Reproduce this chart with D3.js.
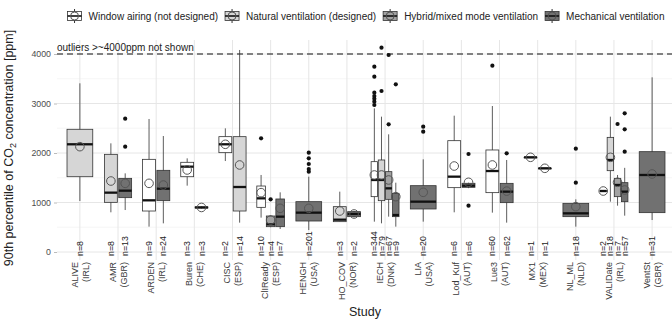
<!DOCTYPE html>
<html>
<head>
<meta charset="utf-8">
<script src="https://cdn.jsdelivr.net/npm/d3@7"></script>
<style>
  body { margin: 0; background: #fff; }
  text { font-family: "Liberation Sans", Arial, sans-serif; }
</style>
</head>
<body>
<svg width="672" height="326"></svg>
<script>
// studies on the x axis
const studyNames = ["ALIVE", "AMR", "ARDEN", "Buren", "CISC", "ClIReady", "HENGH", "HO_COV", "IECH", "LIA", "Lod_Kuf", "Lue3", "MX1", "NL_ML", "VALIDate", "VentSt"];
const studyCountries = ["(IRL)", "(GBR)", "(IRL)", "(CHE)", "(ESP)", "(ESP)", "(USA)", "(NOR)", "(DNK)", "(USA)", "(AUT)", "(AUT)", "(MEX)", "(NLD)", "(IRL)", "(GBR)"];
const ventTypes = ["Window airing (not designed)", "Natural ventilation (designed)", "Hybrid/mixed mode ventilation", "Mechanical ventilation"];
const yTicks = [0, 1000, 2000, 3000, 4000];

// one entry per box
const boxStudy = [0, 1, 1, 2, 2, 3, 3, 4, 4, 5, 5, 5, 6, 7, 7, 8, 8, 8, 8, 9, 10, 10, 11, 11, 12, 12, 13, 14, 14, 14, 14, 15];
const boxType  = [1, 1, 3, 0, 3, 0, 1, 0, 1, 0, 2, 3, 3, 1, 3, 0, 1, 2, 3, 3, 0, 3, 0, 3, 1, 2, 3, 0, 1, 2, 3, 3];
const boxN     = [8, 8, 13, 9, 24, 3, 3, 2, 14, 10, 4, 7, 201, 3, 2, 344, 79, 67, 9, 20, 6, 6, 60, 62, 1, 1, 18, 2, 18, 7, 57, 31];
const whiskLo  = [1030, 802, 848, 512, 579, 1340, 880, 1838, 593, 694, 500, 465, 444, 613, 700, 613, 579, 714, 512, 613, 802, 1290, 795, 593, 1913, 1691, 512, 1215, 1017, 936, 734, 646];
const q1       = [1521, 1003, 1098, 828, 1037, 1521, 890, 2007, 828, 902, 512, 512, 626, 613, 714, 1118, 1037, 1064, 714, 869, 1300, 1307, 1199, 997, 1913, 1691, 714, 1220, 1643, 1118, 1017, 795];
const median   = [2176, 1199, 1239, 1044, 1279, 1724, 900, 2176, 1313, 1084, 559, 714, 795, 653, 768, 1455, 1455, 1286, 747, 1017, 1522, 1340, 1636, 1219, 1913, 1691, 781, 1232, 1859, 1354, 1219, 1556];
const q3       = [2479, 1973, 1488, 1872, 1650, 1812, 910, 2330, 2330, 1333, 727, 1071, 1017, 916, 815, 1825, 1859, 1623, 1185, 1340, 2249, 1388, 2061, 1387, 1913, 1691, 983, 1245, 2316, 1488, 1401, 2027];
const whiskHi  = [3408, 2195, 1589, 2687, 2343, 1892, 920, 2498, 4081, 1556, 740, 1205, 1521, 1219, 830, 2902, 2734, 2377, 1400, 1872, 2754, 1400, 2949, 1859, 1913, 1691, 1064, 1250, 2734, 1556, 1700, 3529];
const means    = [2128, 1434, 1387, 1387, 1353, 1657, 900, 2176, 1758, 1199, 646, 882, 882, 828, 768, 1556, 1556, 1455, 1118, 1206, 1737, 1408, 1758, 1230, 1913, 1691, 916, 1232, 1913, 1408, 1253, 1576];
const outliers = [[], [], [2128, 2694], [], [], [], [], [], [], [2296], [1064], [], [1622, 1677, 1778, 1893, 2006], [], [],
  [2970, 3037, 3097, 3152, 3218, 3542, 3744], [3253, 4127], [2580, 3980], [3387], [2431, 2532], [], [935, 1980], [3764], [1993],
  [], [], [1401, 2088], [], [], [2586], [2026, 2478, 2801], []];

const fills = ["#ffffff", "#d6d6d6", "#a2a2a2", "#717171"];

var margin = {top: 40, right: -3, bottom: 66, left: 57};
let width = 672 - margin.left - margin.right;
let height = 326 - margin.top - margin.bottom;

let svg = d3.select("svg").append("g")
  .attr("transform", "translate(" + margin.left + "," + margin.top + ")");

let scaleX = d3.scalePoint().domain(d3.range(studyNames.length))
  .range([0, width]).padding(0.6);
let scaleY = d3.scaleLinear().domain([0, 4000]).range([212, 14]);
let color = d3.scaleOrdinal().domain(d3.range(4)).range(fills);
let step = scaleX.step();

// grid
svg.selectAll(".minor").data([500, 1500, 2500, 3500]).enter().append("line")
  .attr("x1", 0).attr("x2", width)
  .attr("y1", d => scaleY(d)).attr("y2", d => scaleY(d))
  .attr("stroke", "#f0f0f0").attr("stroke-width", 0.6);
svg.selectAll(".major").data(yTicks).enter().append("line")
  .attr("x1", 0).attr("x2", width)
  .attr("y1", d => scaleY(d)).attr("y2", d => scaleY(d))
  .attr("stroke", "#e6e6e6").attr("stroke-width", 1);
svg.selectAll(".vgrid").data(d3.range(studyNames.length)).enter().append("line")
  .attr("x1", d => scaleX(d)).attr("x2", d => scaleX(d))
  .attr("y1", 0).attr("y2", height)
  .attr("stroke", "#e6e6e6").attr("stroke-width", 1);

// y axis
let axisY = d3.axisLeft(scaleY).tickValues(yTicks).tickFormat(d3.format("d")).tickSize(3).tickPadding(3);
let gy = svg.append("g").call(axisY);
gy.select(".domain").remove();
gy.selectAll("line").attr("stroke", "#bbb");
gy.selectAll("text").attr("fill", "#4d4d4d").style("font-size", "8.8px");

// dashed threshold
svg.append("line")
  .attr("x1", 0).attr("x2", width)
  .attr("y1", scaleY(4000)).attr("y2", scaleY(4000))
  .attr("stroke", "#111").attr("stroke-width", 1.1).attr("stroke-dasharray", "6,4");
svg.append("text").attr("x", 0).attr("y", scaleY(4000) - 3)
  .style("font-size", "10px").attr("fill", "#222")
  .text("outliers >~4000ppm not shown");

// dodge boxes within each study
let boxes = d3.range(boxN.length).map(i => ({
  study: boxStudy[i], type: boxType[i], n: boxN[i],
  lo: whiskLo[i], q1: q1[i], med: median[i], q3: q3[i], hi: whiskHi[i],
  mean: means[i], out: outliers[i]
}));
let byStudy = d3.group(boxes, d => d.study);
byStudy.forEach(list => {
  list.forEach((b, j) => {
    let slot = 0.75 * step / list.length;
    b.cx = scaleX(b.study) - 0.375 * step + (j + 0.5) * slot;
    b.w = slot * 0.9;
  });
});

let g = svg.selectAll(".box").data(boxes).enter().append("g");
g.append("line")
  .attr("x1", d => d.cx).attr("x2", d => d.cx)
  .attr("y1", d => scaleY(d.lo)).attr("y2", d => scaleY(d.hi))
  .attr("stroke", "#333").attr("stroke-width", 0.8);
g.append("rect")
  .attr("x", d => d.cx - d.w / 2).attr("width", d => d.w)
  .attr("y", d => scaleY(d.q3)).attr("height", d => Math.max(0.5, scaleY(d.q1) - scaleY(d.q3)))
  .attr("fill", d => color(d.type)).attr("stroke", "#333").attr("stroke-width", 0.8);
g.append("line")
  .attr("x1", d => d.cx - d.w / 2).attr("x2", d => d.cx + d.w / 2)
  .attr("y1", d => scaleY(d.med)).attr("y2", d => scaleY(d.med))
  .attr("stroke", "#111").attr("stroke-width", 2.3);
g.selectAll(".out").data(d => d.out.map(v => ({x: d.cx, v: v}))).enter().append("circle")
  .attr("cx", d => d.x).attr("cy", d => scaleY(d.v)).attr("r", 2.1)
  .attr("fill", "#111");
g.append("circle")
  .attr("cx", d => d.cx).attr("cy", d => scaleY(d.mean)).attr("r", 4.3)
  .attr("fill", "none").attr("stroke", "#555").attr("stroke-width", 1);

// n labels
g.append("text")
  .attr("transform", d => "translate(" + d.cx + "," + (scaleY(0) + 4) + ") rotate(-90)")
  .attr("dy", "0.35em").style("font-size", "8.8px").attr("fill", "#222")
  .text(d => "n=" + d.n);

// x labels, two lines each
let xl = svg.selectAll(".xl").data(d3.range(studyNames.length)).enter().append("g")
  .attr("transform", d => "translate(" + scaleX(d) + "," + (height + 2) + ") rotate(-90)");
xl.append("text").attr("text-anchor", "end").attr("y", -5.5).attr("dy", "0.35em")
  .style("font-size", "9px").attr("fill", "#3a3a3a").text(d => studyNames[d]);
xl.append("text").attr("text-anchor", "end").attr("y", 5.5).attr("dy", "0.35em")
  .style("font-size", "9px").attr("fill", "#3a3a3a").text(d => studyCountries[d]);

// axis titles
svg.append("text").attr("x", width / 2 - 1).attr("y", height + 56)
  .attr("text-anchor", "middle").style("font-size", "12.5px").attr("fill", "#222").text("Study");
let yt = svg.append("text")
  .attr("transform", "translate(" + (-44) + "," + (height / 2 - 2) + ") rotate(-90)")
  .attr("text-anchor", "middle").style("font-size", "12.5px").attr("fill", "#222");
yt.append("tspan").text("90th percentile of CO");
yt.append("tspan").attr("dy", 3).style("font-size", "9px").text("2");
yt.append("tspan").attr("dy", -3).text(" concentration [ppm]");

// legend across the top
let leg = d3.select("svg").append("g");
let lx = 0;
ventTypes.forEach((t, i) => {
  let item = leg.append("g").attr("transform", "translate(" + lx + ",16)");
  item.append("line").attr("x1", 7).attr("x2", 7).attr("y1", -7).attr("y2", 7).attr("stroke", "#333");
  item.append("rect").attr("x", 0).attr("y", -4.5).attr("width", 14).attr("height", 9)
    .attr("fill", color(i)).attr("stroke", "#333").attr("stroke-width", 0.8);
  item.append("line").attr("x1", 0).attr("x2", 14).attr("y1", 0).attr("y2", 0).attr("stroke", "#111").attr("stroke-width", 1.6);
  item.append("circle").attr("cx", 7).attr("cy", 0).attr("r", 4).attr("fill", "none").attr("stroke", "#555");
  let tx = item.append("text").attr("x", 21).attr("dy", "0.35em").style("font-size", "10px").attr("fill", "#222").text(t);
  lx += 21 + tx.node().getComputedTextLength() + 7;
});
leg.attr("transform", "translate(" + (margin.left + width / 2 - (lx - 7) / 2) + ",0)");
</script>
</body>
</html>
